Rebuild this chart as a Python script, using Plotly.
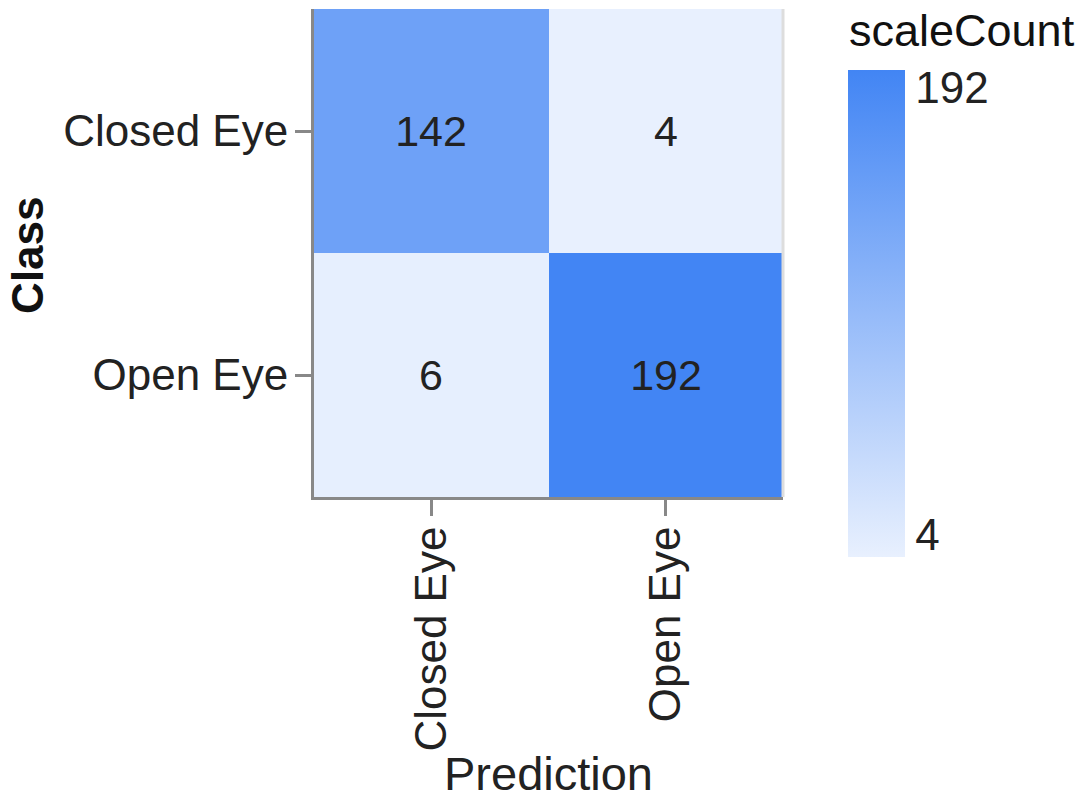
import plotly.graph_objects as go

# ---- data ----
predictions = ["Closed Eye", "Open Eye"]
classes = ["Closed Eye", "Open Eye"]
counts_closed_row = [142, 4]
counts_open_row = [6, 192]
z = [counts_closed_row, counts_open_row]
zmin = min(min(r) for r in z)
zmax = max(max(r) for r in z)
x_title = "Prediction"
y_title = "Class"
legend_title = "scaleCount"

FONT = "Liberation Sans, Arial, sans-serif"

fig = go.Figure(
    go.Heatmap(
        z=z,
        x=predictions,
        y=classes,
        zmin=zmin,
        zmax=zmax,
        colorscale=[[0, "#E8F0FE"], [1, "#4285F4"]],
        texttemplate="%{z}",
        textfont=dict(family=FONT, size=43, color="#222222"),
        xgap=0,
        ygap=0,
        colorbar=dict(
            x=1.1386,
            xanchor="left",
            y=0.875,
            yanchor="top",
            lenmode="pixels",
            len=487,
            thickness=57,
            xpad=0,
            ypad=0,
            outlinewidth=0,
            ticks="outside",
            ticklen=2,
            tickcolor="rgba(0,0,0,0)",
            tickvals=[zmin + 0.045 * (zmax - zmin), zmax - 0.037 * (zmax - zmin)],
            ticktext=[str(zmin), str(zmax)],
            tickfont=dict(family=FONT, size=44, color="#222222"),
        ),
        hoverinfo="skip",
    )
)

fig.update_layout(
    width=1088,
    height=796,
    margin=dict(l=306, r=313, t=1, b=307, pad=0, autoexpand=False),
    paper_bgcolor="white",
    plot_bgcolor="white",
    font=dict(family=FONT, color="#222222"),
    xaxis=dict(
        tickangle=-90,
        ticks="outside",
        ticklen=16,
        tickwidth=3,
        tickcolor="#888888",
        showline=True,
        linecolor="#888888",
        linewidth=3,
        tickfont=dict(family=FONT, size=44, color="#222222"),
        showgrid=False,
        zeroline=False,
        ticklabelstandoff=-7,
        automargin=False,
    ),
    yaxis=dict(
        autorange="reversed",
        ticks="outside",
        ticklen=16,
        tickwidth=3,
        tickcolor="#888888",
        showline=True,
        linecolor="#888888",
        linewidth=3,
        tickfont=dict(family=FONT, size=44, color="#222222"),
        showgrid=False,
        zeroline=False,
        ticklabelstandoff=-2,
        automargin=False,
    ),
    shapes=[
        dict(type="line", xref="paper", yref="paper", x0=1, x1=1, y0=0, y1=1,
             line=dict(color="#dddddd", width=3)),
    ],
    annotations=[
        dict(text=legend_title, xref="paper", yref="paper", x=1.137, y=0.955,
             xanchor="left", yanchor="middle", showarrow=False,
             font=dict(family=FONT, size=45, color="#111111")),
        dict(text=x_title, xref="paper", yref="paper", x=0.5, y=-0.567,
             xanchor="center", yanchor="middle", showarrow=False,
             font=dict(family=FONT, size=47, color="#222222")),
        dict(text="<b>" + y_title + "</b>", xref="paper", yref="paper", x=-0.611, y=0.495,
             xanchor="center", yanchor="middle", showarrow=False, textangle=-90,
             font=dict(family=FONT, size=44, color="#111111")),
    ],
)

fig.write_html("out.html")
